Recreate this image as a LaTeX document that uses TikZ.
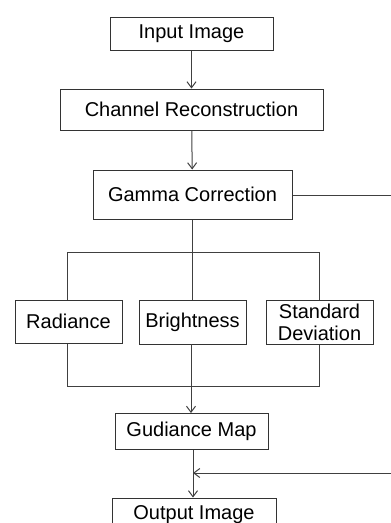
\documentclass[tikz,border=0pt]{standalone}
\usepackage{fontspec}
\setmainfont{Liberation Sans}
\usetikzlibrary{arrows.meta}
\begin{document}
\begin{tikzpicture}[x=1pt,y=-1pt,
  box/.style={draw=black!80,line width=1pt,inner sep=0pt,align=center,
    font=\fontsize{20}{22}\selectfont,text=black},
  conn/.style={draw=black!75,line width=1pt},
  arr/.style={conn,-{Straight Barb[length=6pt,width=9pt]}}]
\useasboundingbox (0,0) rectangle (391,523);
\clip (0,0) rectangle (391,523);
\node[box,minimum width=163pt,minimum height=33pt] (in) at (191.5,33.5) {Input Image};
\node[box,minimum width=263pt,minimum height=41pt] (cr) at (191.5,109.5) {Channel Reconstruction};
\node[box,minimum width=199pt,minimum height=49pt] (gc) at (192.5,194.5) {Gamma Correction};
\node[box,minimum width=107pt,minimum height=43pt] (rad) at (68.5,321.5) {Radiance};
\node[box,minimum width=107pt,minimum height=44pt] (bri) at (192.5,322) {Brightness};
\node[box,minimum width=107pt,minimum height=44pt] (sd) at (319.5,322) {Standard\\Deviation};
\node[box,minimum width=153pt,minimum height=36pt] (gm) at (191.5,431) {Gudiance Map};
\node[box,minimum width=164pt,minimum height=34pt] (out) at (194,515) {Output Image};
\coordinate (bt) at (192,252);
\coordinate (bl) at (67,252);
\coordinate (br) at (319,252);
\coordinate (ml) at (67,386);
\coordinate (mr) at (319,386);
\coordinate (r1) at (392,195);
\coordinate (r2) at (392,473);
\coordinate (j) at (193,473);
\draw[arr] (in) -- (cr);
\draw[arr] (cr) -- (gc);
\draw[conn] (gc.south -| bt) -- (bt);
\draw[conn] (bl) -- (br);
\draw[conn] (bl) -- (bl |- rad.north);
\draw[conn] (bt) -- (bt |- bri.north);
\draw[conn] (br) -- (br |- sd.north);
\draw[conn] (ml |- rad.south) -- (ml) -- (mr) -- (mr |- sd.south);
\draw[arr] (191,344) -- (191,413);
\draw[conn] (gc.east |- r1) -- (r1);
\draw[arr] (j |- gm.south) -- (j |- out.north);
\draw[arr] (r2) -- (j);
\end{tikzpicture}
\end{document}
